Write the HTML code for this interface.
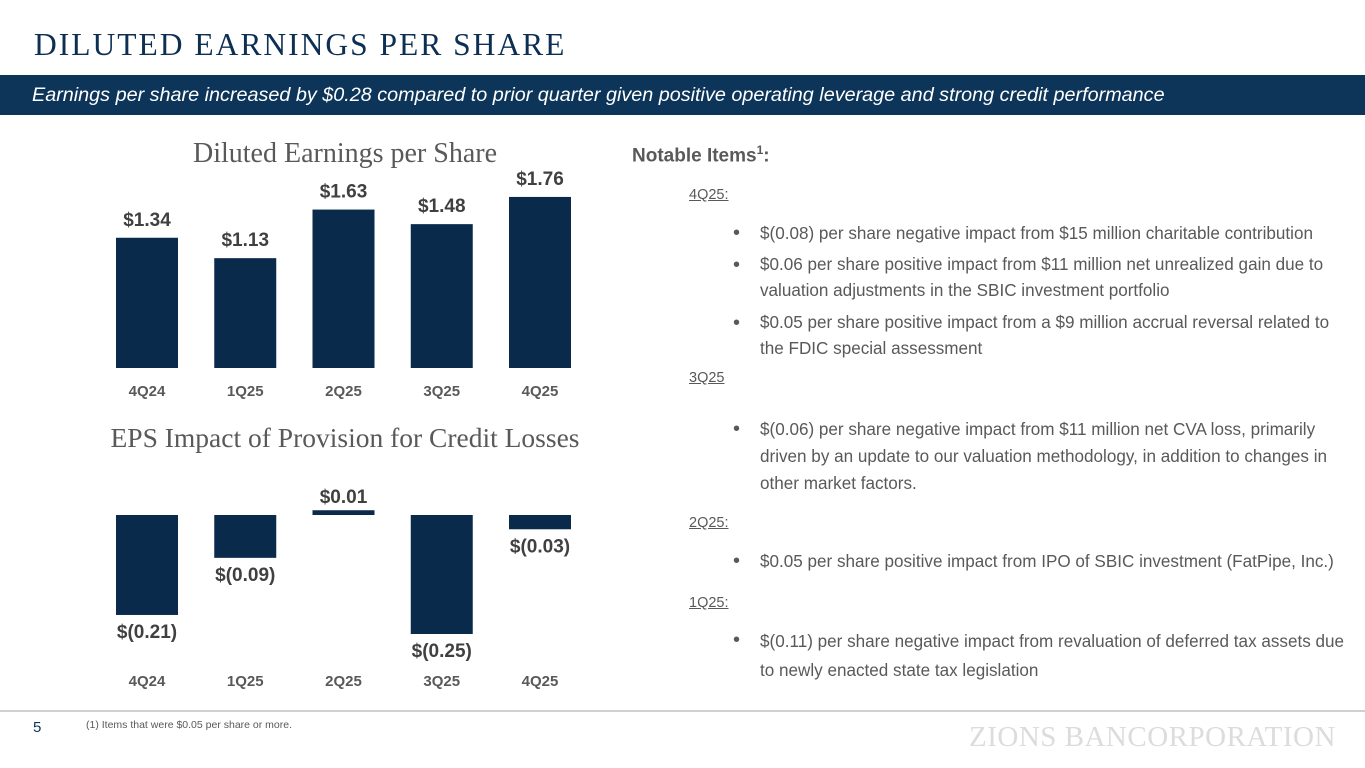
<!DOCTYPE html>
<html><head><meta charset="utf-8"><style>
body{margin:0;width:1365px;height:768px;background:#fff;position:relative;overflow:hidden;font-family:"Liberation Sans",sans-serif;}
.abs{position:absolute;white-space:nowrap;}
.t{color:#595959;font-size:17.1px;line-height:27px;}
.h{color:#595959;font-size:14.5px;text-decoration:underline;line-height:18px;}
.b{color:#595959;font-size:20px;line-height:27px;}
</style></head><body>
<div class="abs" style="left:34px;top:27px;font-family:'Liberation Serif',serif;font-size:31.5px;letter-spacing:2px;color:#0d2f52;">DILUTED EARNINGS PER SHARE</div>
<div class="abs" style="left:0;top:75px;width:1365px;height:40px;background:#0c3559;"></div>
<div class="abs" style="left:32px;top:84px;font-size:19.8px;font-style:italic;color:#fff;">Earnings per share increased by $0.28 compared to prior quarter given positive operating leverage and strong credit performance</div>

<svg class="abs" style="left:0;top:0" width="620" height="700" id="svg"></svg>

<div class="abs" style="left:632px;top:143px;font-size:19px;font-weight:bold;color:#595959;">Notable Items<sup style="font-size:12px">1</sup>:</div>
<div>
<div class="abs h" style="left:689px;top:186px">4Q25:</div>
<div class="abs b" style="left:733px;top:220px">•</div><div class="abs t" style="left:760px;top:220px">$(0.08) per share negative impact from $15 million charitable contribution</div>
<div class="abs b" style="left:733px;top:252px">•</div><div class="abs t" style="left:760px;top:252px;line-height:26px">$0.06 per share positive impact from $11 million net unrealized gain due to<br>valuation adjustments in the SBIC investment portfolio</div>
<div class="abs b" style="left:733px;top:310px">•</div><div class="abs t" style="left:760px;top:310px;line-height:26px">$0.05 per share positive impact from a $9 million accrual reversal related to<br>the FDIC special assessment</div>
<div class="abs h" style="left:689px;top:369px">3Q25</div>
<div class="abs b" style="left:733px;top:416px">•</div><div class="abs t" style="left:760px;top:416px">$(0.06) per share negative impact from $11 million net CVA loss, primarily<br>driven by an update to our valuation methodology, in addition to changes in<br>other market factors.</div>
<div class="abs h" style="left:689px;top:514px">2Q25:</div>
<div class="abs b" style="left:733px;top:548px">•</div><div class="abs t" style="left:760px;top:548px">$0.05 per share positive impact from IPO of SBIC investment (FatPipe, Inc.)</div>
<div class="abs h" style="left:689px;top:594px">1Q25:</div>
<div class="abs b" style="left:733px;top:627px">•</div><div class="abs t" style="left:760px;top:627px;line-height:29px">$(0.11) per share negative impact from revaluation of deferred tax assets due<br>to newly enacted state tax legislation</div>
</div>

<div class="abs" style="left:0;top:710px;width:1365px;height:2px;background:#d0d0d0;"></div>
<div class="abs" style="left:33px;top:719px;font-size:15px;color:#0c3559;">5</div>
<div class="abs" style="left:86px;top:719px;font-size:10.5px;color:#595959;">(1) Items that were $0.05 per share or more.</div>
<div class="abs" style="left:969px;top:721px;font-family:'Liberation Serif',serif;font-size:29px;color:#dcdcdc;letter-spacing:0.5px;">ZIONS BANCORPORATION</div>

<script>
const categories=["4Q24","1Q25","2Q25","3Q25","4Q25"];
const epsValues=[1.34,1.13,1.63,1.48,1.76];
const epsLabels=["$1.34","$1.13","$1.63","$1.48","$1.76"];
const provValues=[-0.21,-0.09,0.01,-0.25,-0.03];
const provLabels=["$(0.21)","$(0.09)","$0.01","$(0.25)","$(0.03)"];
const NS="http://www.w3.org/2000/svg";
const svg=document.getElementById('svg');
function el(t,a,txt){const e=document.createElementNS(NS,t);for(const k in a)e.setAttribute(k,a[k]);if(txt!==undefined)e.textContent=txt;svg.appendChild(e);return e;}
const xPos=i=>147+i*98.25, bw=62;
const c1="#0a2a4c";
let t=el('text',{x:345,y:162,'text-anchor':'middle','font-family':'Liberation Serif,serif','font-size':28,fill:'#595959'},'Diluted Earnings per Share');

const y1=v=>368-v*97.2;
categories.forEach((c,i)=>{
 const r=el('rect',{x:xPos(i)-bw/2,y:y1(epsValues[i]),width:bw,height:368-y1(epsValues[i]),fill:c1});
 
 
 const l=el('text',{x:xPos(i),y:y1(epsValues[i])-12,'text-anchor':'middle','font-size':19,'font-weight':'bold',fill:'#404040'},epsLabels[i]);
 
 
 const x=el('text',{x:xPos(i),y:396,'text-anchor':'middle','font-size':15,'font-weight':'bold',fill:'#595959'},c);
 
 
});
t=el('text',{x:345,y:447,'text-anchor':'middle','font-family':'Liberation Serif,serif','font-size':27.5,fill:'#595959'},'EPS Impact of Provision for Credit Losses');

const z=515,k=476;
const y2=v=>z-v*k;
categories.forEach((c,i)=>{
 const v=provValues[i];
 const top=Math.min(y2(v),z),h=Math.max(Math.abs(y2(v)-z),3);
 const r=el('rect',{x:xPos(i)-bw/2,y:v>0?z-h:top,width:bw,height:h,fill:c1});
 
 
 const ly=v>=0?z-12:y2(v)+23;
 const l=el('text',{x:xPos(i),y:ly,'text-anchor':'middle','font-size':19,'font-weight':'bold',fill:'#404040'},provLabels[i]);
 
 
 const x=el('text',{x:xPos(i),y:686,'text-anchor':'middle','font-size':15,'font-weight':'bold',fill:'#595959'},c);
 
 
});
</script>
</body></html>
